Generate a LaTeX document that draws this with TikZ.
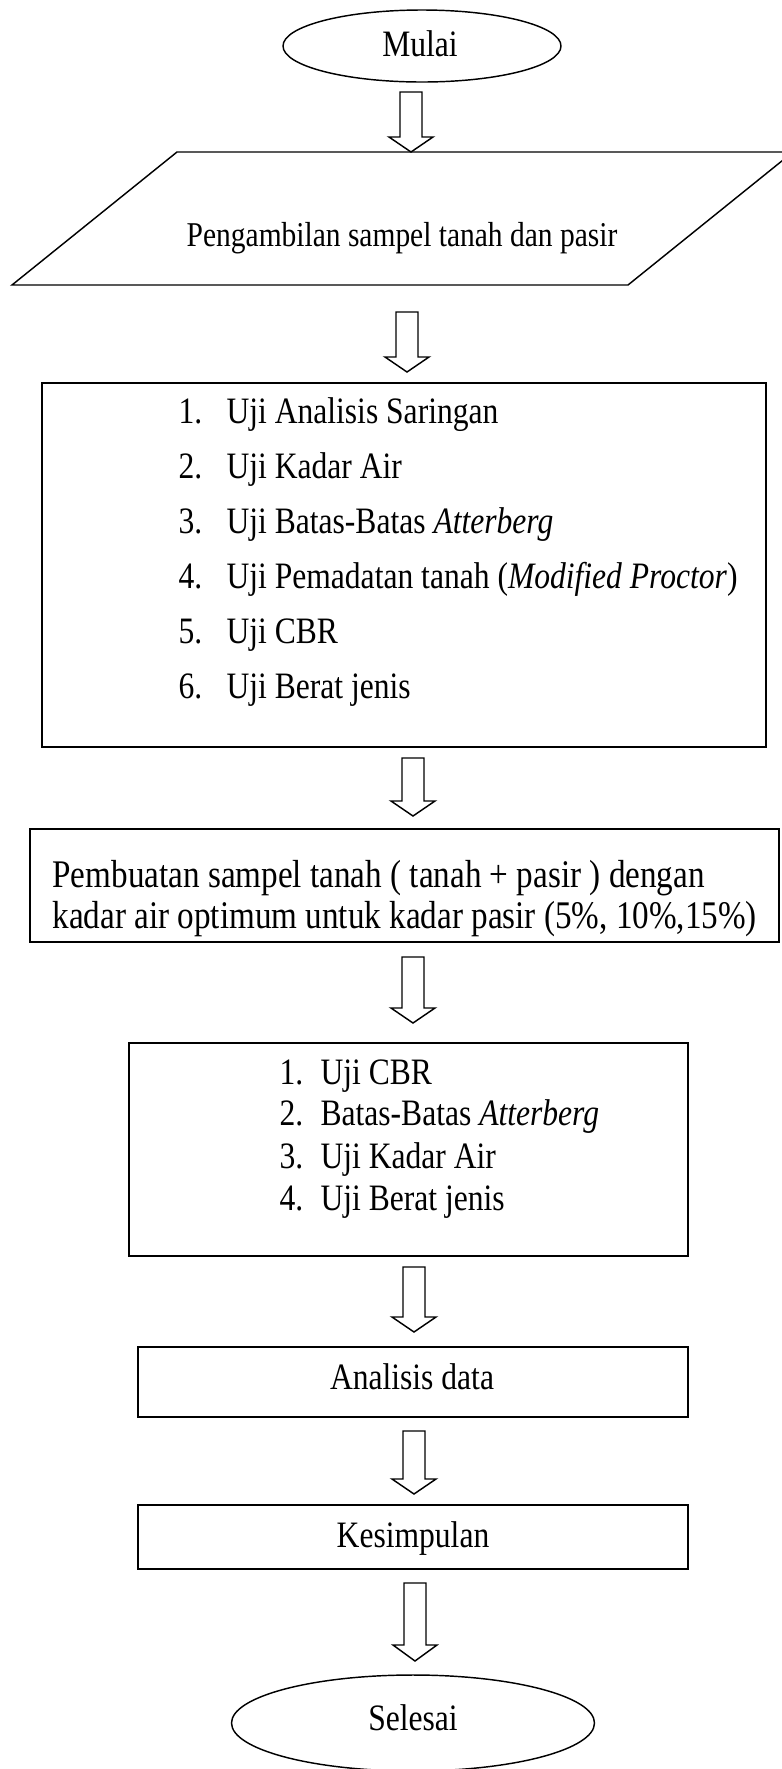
\documentclass[tikz,border=0pt]{standalone}
\usepackage{fontspec}
\usepackage{graphicx}
\setmainfont{Liberation Serif}
\usetikzlibrary{shapes.geometric}
\newcommand\pu{0.38pt}
\newcommand\tall[1]{\scalebox{1}[1.18]{#1}}
\newcommand\blockarr[4]{% x centre, top y, head base y, tip y
  \draw[blk] ({#1-11},{#2}) -- ({#1+11},{#2}) -- ({#1+11},{#3}) -- ({#1+22},{#3})
    -- ({#1},{#4}) -- ({#1-22},{#3}) -- ({#1-11},{#3}) -- cycle;}
\begin{document}
\begin{tikzpicture}[x=0.38pt,y=-0.38pt,
  box/.style={draw=black, line width=0.6pt, rectangle, inner sep=0pt, outer sep=0pt},
  term/.style={draw=black, line width=0.55pt, ellipse, inner sep=0pt, outer sep=0pt},
  txt/.style={font=\fontsize{12}{14}\selectfont, inner sep=0pt, anchor=base west},
  ctxt/.style={font=\fontsize{12}{14}\selectfont, inner sep=0pt, anchor=base},
  blk/.style={draw=black, line width=0.55pt, fill=white, line join=miter}
]
\useasboundingbox (0,0) rectangle (782,1769);
\clip (0,0) rectangle (782,1769);

% terminals
\node[term, minimum width=278*\pu, minimum height=72*\pu] (mulai) at (422,46) {};
\node[ctxt] (tmulai) at (420,56) {\tall{Mulai}};

% parallelogram
\draw[line width=0.55pt] (177,152) -- (793,152) -- (628,285) -- (12,285) -- cycle;
\node[ctxt, font=\fontsize{11.2}{13}\selectfont] (tambil) at (402,246) {\tall{Pengambilan sampel tanah dan pasir}};

% box 1
\node[box, minimum width=724*\pu, minimum height=364*\pu] (b1) at (404,565) {};
\node[txt] (n11) at (178,423) {\tall{1.}};
\node[txt] (i11) at (226,423) {\tall{Uji Analisis Saringan}};
\node[txt] (n12) at (178,478) {\tall{2.}};
\node[txt] (i12) at (226,478) {\tall{Uji Kadar Air}};
\node[txt] (n13) at (178,533) {\tall{3.}};
\node[txt] (i13) at (226,533) {\tall{Uji Batas-Batas \textit{Atterberg}}};
\node[txt] (n14) at (178,588) {\tall{4.}};
\node[txt] (i14) at (226,588) {\tall{Uji Pemadatan tanah (\textit{Modified Proctor})}};
\node[txt] (n15) at (178,643) {\tall{5.}};
\node[txt] (i15) at (226,643) {\tall{Uji CBR}};
\node[txt] (n16) at (178,698) {\tall{6.}};
\node[txt] (i16) at (226,698) {\tall{Uji Berat jenis}};

% box 2
\node[box, minimum width=749*\pu, minimum height=113*\pu] (b2) at (404.5,885.5) {};
\node[txt, font=\fontsize{12.6}{14}\selectfont] (l21) at (52,887) {\tall{Pembuatan sampel tanah ( tanah + pasir ) dengan}};
\node[txt, font=\fontsize{12.6}{14}\selectfont] (l22) at (52,928) {\tall{kadar air optimum untuk kadar pasir (5\%, 10\%,15\%)}};

% box 3
\node[box, minimum width=559*\pu, minimum height=213*\pu] (b3) at (408.5,1149.5) {};
\node[txt] (n31) at (279,1084) {\tall{1.}};
\node[txt] (i31) at (320,1084) {\tall{Uji CBR}};
\node[txt] (n32) at (279,1125) {\tall{2.}};
\node[txt] (i32) at (320,1125) {\tall{Batas-Batas \textit{Atterberg}}};
\node[txt] (n33) at (279,1168) {\tall{3.}};
\node[txt] (i33) at (320,1168) {\tall{Uji Kadar Air}};
\node[txt] (n34) at (279,1210) {\tall{4.}};
\node[txt] (i34) at (320,1210) {\tall{Uji Berat jenis}};

% box 4, 5
\node[box, minimum width=550*\pu, minimum height=70*\pu] (b4) at (413,1382) {};
\node[ctxt] (t4) at (412,1389) {\tall{Analisis data}};
\node[box, minimum width=550*\pu, minimum height=64*\pu] (b5) at (413,1537) {};
\node[ctxt] (t5) at (413,1547) {\tall{Kesimpulan}};

\node[term, minimum width=363*\pu, minimum height=96*\pu] (selesai) at (413,1723) {};
\node[ctxt] (tselesai) at (413,1730) {\tall{Selesai}};

% block arrows
\blockarr{411}{92}{137}{152}
\blockarr{407}{312}{357}{372}
\blockarr{413}{758}{801}{816}
\blockarr{413}{957}{1008}{1023}
\blockarr{414}{1267}{1317}{1332}
\blockarr{414}{1431}{1479}{1494}
\blockarr{415}{1583}{1645}{1661}
\end{tikzpicture}
\end{document}
